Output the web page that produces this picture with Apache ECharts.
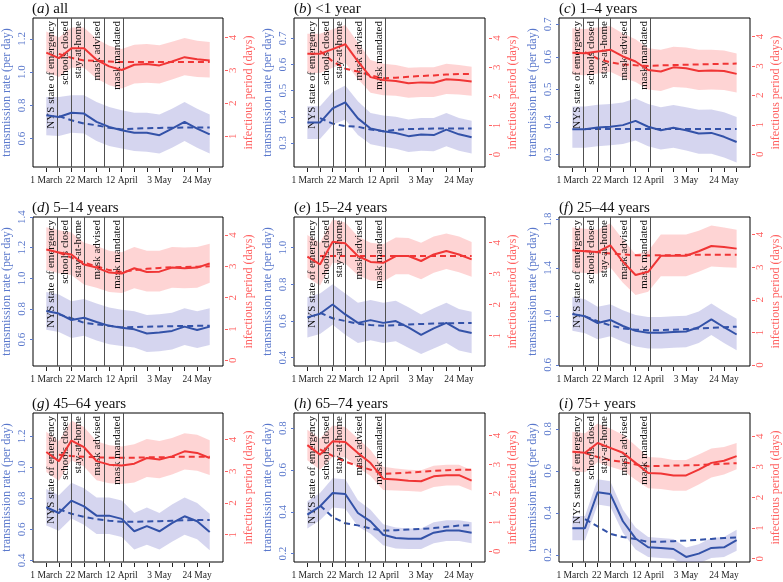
<!DOCTYPE html>
<html><head><meta charset="utf-8">
<script src="https://cdn.jsdelivr.net/npm/echarts@6/dist/echarts.min.js"></script>
<style>html,body{margin:0;padding:0;background:#fff}#c{width:783px;height:582px}</style>
</head><body><div id="c"></div>
<script>
// ---------- data ----------
const weekDays = [0,7,14,21,28,35,42,49,56,63,70,77,84,91];
const xTickDays = [0,7,14,21,28,35,42,49,56,63,70,77,84,91];
const xLabelDays = [0,21,42,63,84];
const xLabelText = ['1 March','22 March','12 April','3 May','24 May'];
const eventDays = [6.3,14.1,21.1,32.0,43.1];
const eventNames = ['NYS state of emergency','schools closed','stay-at-home','mask advised','mask mandated'];
const panelLetters = ['a','b','c','d','e','f','g','h','i'];
const panelNames = ['all','<1 year','1–4 years','5–14 years','15–24 years','25–44 years','45–64 years','65–74 years','75+ years'];

const rateMean = [
 [0.74,0.73,0.755,0.75,0.70,0.67,0.65,0.635,0.635,0.62,0.66,0.70,0.66,0.625],
 [0.378,0.378,0.432,0.455,0.394,0.355,0.345,0.338,0.326,0.332,0.330,0.351,0.333,0.322],
 [0.377,0.377,0.383,0.385,0.39,0.403,0.385,0.374,0.382,0.374,0.364,0.366,0.354,0.338],
 [0.787,0.77,0.728,0.743,0.715,0.69,0.678,0.667,0.64,0.646,0.657,0.685,0.663,0.685],
 [0.62,0.64,0.69,0.636,0.59,0.605,0.59,0.60,0.565,0.525,0.56,0.59,0.55,0.535],
 [1.02,1.0,0.945,0.97,0.92,0.88,0.865,0.865,0.87,0.875,0.91,0.975,0.91,0.85],
 [0.742,0.705,0.785,0.748,0.688,0.688,0.667,0.587,0.62,0.587,0.64,0.684,0.652,0.583],
 [0.386,0.426,0.49,0.485,0.394,0.354,0.29,0.275,0.271,0.271,0.30,0.31,0.31,0.30],
 [0.327,0.327,0.498,0.49,0.36,0.278,0.236,0.233,0.228,0.19,0.206,0.233,0.236,0.27]
];
const rateHi = [
 [0.85,0.85,0.86,0.86,0.82,0.79,0.77,0.755,0.755,0.745,0.78,0.82,0.78,0.745],
 [0.44,0.44,0.495,0.52,0.46,0.415,0.405,0.40,0.39,0.395,0.395,0.415,0.395,0.385],
 [0.447,0.447,0.453,0.455,0.46,0.472,0.455,0.445,0.452,0.445,0.437,0.438,0.43,0.415],
 [0.91,0.895,0.85,0.865,0.835,0.81,0.795,0.785,0.76,0.765,0.775,0.805,0.785,0.805],
 [0.73,0.75,0.80,0.75,0.70,0.715,0.70,0.71,0.675,0.635,0.67,0.70,0.665,0.65],
 [1.16,1.14,1.08,1.10,1.05,1.01,0.995,0.995,1.0,1.005,1.04,1.105,1.04,0.98],
 [0.86,0.82,0.90,0.865,0.805,0.805,0.785,0.705,0.74,0.705,0.76,0.805,0.77,0.70],
 [0.45,0.49,0.56,0.555,0.455,0.41,0.34,0.325,0.32,0.32,0.35,0.36,0.36,0.35],
 [0.385,0.385,0.56,0.55,0.415,0.33,0.285,0.28,0.275,0.235,0.25,0.28,0.285,0.32]
];
const rateLo = [
 [0.62,0.615,0.635,0.63,0.585,0.555,0.54,0.525,0.52,0.51,0.545,0.585,0.545,0.51],
 [0.315,0.315,0.37,0.39,0.33,0.295,0.285,0.278,0.265,0.27,0.268,0.287,0.27,0.26],
 [0.32,0.32,0.325,0.328,0.332,0.343,0.325,0.315,0.32,0.312,0.302,0.302,0.29,0.275],
 [0.665,0.65,0.61,0.625,0.595,0.57,0.558,0.548,0.52,0.525,0.535,0.565,0.545,0.565],
 [0.51,0.53,0.58,0.525,0.48,0.495,0.48,0.49,0.455,0.42,0.45,0.48,0.44,0.425],
 [0.88,0.86,0.81,0.835,0.79,0.75,0.735,0.735,0.74,0.745,0.78,0.845,0.78,0.72],
 [0.625,0.59,0.67,0.63,0.57,0.57,0.55,0.47,0.50,0.47,0.52,0.565,0.535,0.465],
 [0.32,0.36,0.42,0.415,0.33,0.295,0.24,0.225,0.222,0.222,0.25,0.26,0.26,0.25],
 [0.27,0.27,0.44,0.43,0.305,0.225,0.19,0.185,0.182,0.145,0.16,0.185,0.19,0.22]
];
// fitted (dashed) curves start at the second week
const rateFit = [
 [null,0.735,0.71,0.69,0.68,0.665,0.655,0.66,0.662,0.664,0.665,0.666,0.666,0.666],
 [null,0.395,0.374,0.364,0.362,0.351,0.345,0.35,0.353,0.354,0.355,0.355,0.355,0.355],
 [null,0.378,0.378,0.378,0.378,0.378,0.378,0.378,0.378,0.378,0.378,0.378,0.378,0.378],
 [null,0.765,0.74,0.71,0.70,0.69,0.68,0.682,0.684,0.686,0.688,0.689,0.69,0.69],
 [null,0.645,0.615,0.60,0.585,0.578,0.575,0.578,0.581,0.584,0.586,0.588,0.589,0.59],
 [null,1.0,0.96,0.925,0.90,0.89,0.885,0.886,0.89,0.895,0.90,0.905,0.91,0.915],
 [null,0.73,0.70,0.68,0.665,0.655,0.648,0.648,0.650,0.652,0.655,0.658,0.66,0.66],
 [null,0.43,0.375,0.345,0.335,0.32,0.31,0.312,0.315,0.318,0.322,0.328,0.334,0.336],
 [null,0.37,0.335,0.30,0.285,0.275,0.262,0.262,0.265,0.268,0.272,0.276,0.28,0.283]
];
const periodMean = [
 [3.54,3.37,3.67,3.67,3.32,3.12,3.01,3.17,3.19,3.15,3.27,3.40,3.34,3.30],
 [3.46,3.46,3.62,3.79,3.20,2.66,2.56,2.53,2.45,2.48,2.47,2.59,2.56,2.51],
 [3.45,3.43,3.49,3.55,3.32,3.15,2.86,2.81,2.95,2.92,2.83,2.84,2.83,2.73],
 [3.54,3.44,3.38,3.06,2.96,2.80,2.77,2.94,2.82,2.83,2.96,2.94,2.96,3.09],
 [3.55,3.30,4.03,3.98,3.57,3.38,3.35,3.57,3.57,3.41,3.62,3.73,3.62,3.46],
 [3.52,3.49,3.47,3.67,3.17,2.76,2.86,3.35,3.35,3.35,3.49,3.65,3.62,3.57],
 [3.61,3.32,3.97,3.76,3.32,3.21,3.18,3.24,3.42,3.37,3.47,3.63,3.58,3.42],
 [3.67,3.34,3.80,3.78,3.40,3.05,2.51,2.48,2.44,2.42,2.59,2.63,2.63,2.44],
 [3.49,3.46,3.78,3.62,3.46,3.13,2.80,2.78,2.72,2.72,2.91,3.13,3.20,3.35]
];
const periodHi = [
 [4.18,4.0,4.3,4.3,3.95,3.75,3.65,3.78,3.8,3.76,3.87,3.98,3.9,3.86],
 [4.15,4.15,4.3,4.45,3.85,3.25,3.12,3.08,2.98,3.0,3.0,3.12,3.08,3.02],
 [4.28,4.25,4.3,4.35,4.1,3.9,3.6,3.55,3.65,3.62,3.55,3.55,3.52,3.42],
 [4.25,4.15,4.08,3.75,3.65,3.5,3.45,3.62,3.5,3.5,3.62,3.6,3.62,3.72],
 [4.25,4.0,4.75,4.65,4.2,4.0,3.95,4.17,4.15,4.0,4.2,4.3,4.2,4.02],
 [4.22,4.18,4.15,4.35,3.85,3.4,3.5,4.0,4.0,4.0,4.12,4.28,4.22,4.15],
 [4.25,3.95,4.6,4.4,3.95,3.82,3.78,3.85,4.02,3.96,4.05,4.2,4.15,3.98],
 [4.2,3.9,4.35,4.3,3.9,3.5,2.92,2.86,2.82,2.8,2.96,2.99,2.99,2.8],
 [4.15,4.1,4.42,4.25,4.05,3.7,3.32,3.3,3.22,3.22,3.4,3.6,3.65,3.78]
];
const periodLo = [
 [2.95,2.8,3.08,3.08,2.75,2.55,2.45,2.6,2.62,2.6,2.72,2.85,2.8,2.78],
 [2.8,2.8,2.98,3.15,2.6,2.12,2.04,2.02,1.95,1.98,1.98,2.08,2.06,2.02],
 [2.7,2.68,2.74,2.8,2.6,2.45,2.2,2.15,2.28,2.26,2.18,2.2,2.18,2.1],
 [2.88,2.78,2.72,2.42,2.32,2.18,2.15,2.3,2.2,2.2,2.32,2.3,2.32,2.48],
 [2.88,2.62,3.35,3.33,2.95,2.78,2.75,2.98,2.98,2.82,3.03,3.15,3.05,2.9],
 [2.85,2.82,2.8,3.0,2.52,2.15,2.25,2.72,2.72,2.72,2.86,3.02,3.0,2.98],
 [2.98,2.7,3.35,3.15,2.72,2.62,2.6,2.65,2.82,2.78,2.9,3.06,3.02,2.88],
 [3.15,2.82,3.25,3.25,2.9,2.6,2.12,2.1,2.08,2.06,2.22,2.27,2.27,2.1],
 [2.85,2.82,3.15,3.0,2.88,2.58,2.3,2.28,2.22,2.22,2.42,2.65,2.75,2.92]
];
const periodFit = [
 [null,3.5,3.38,3.3,3.29,3.27,3.25,3.25,3.25,3.25,3.25,3.25,3.25,3.25],
 [null,3.56,3.2,2.95,2.85,2.72,2.62,2.64,2.67,2.7,2.72,2.75,2.77,2.77],
 [null,3.47,3.25,3.12,3.05,3.02,3.0,3.02,3.03,3.04,3.05,3.06,3.07,3.08],
 [null,3.44,3.28,3.12,3.0,2.88,2.82,2.88,2.92,2.95,2.97,2.98,2.99,3.0],
 [null,3.57,3.57,3.57,3.57,3.57,3.57,3.57,3.57,3.57,3.57,3.57,3.57,3.57],
 [null,3.5,3.46,3.42,3.39,3.37,3.36,3.37,3.37,3.38,3.38,3.38,3.38,3.38],
 [null,3.52,3.48,3.46,3.44,3.43,3.43,3.43,3.44,3.44,3.45,3.46,3.46,3.46],
 [null,3.52,3.3,3.1,2.95,2.82,2.68,2.7,2.72,2.75,2.78,2.8,2.82,2.82],
 [null,3.45,3.32,3.22,3.16,3.08,3.02,3.03,3.04,3.05,3.06,3.08,3.1,3.12]
];
const leftRange = [[0.429,1.325],[0.208,0.778],[0.261,0.72],[0.428,1.4],[0.355,1.167],[0.59,1.82],[0.389,1.35],[0.16,0.872],[0.166,0.875]];
const leftTicks = [[0.6,0.8,1.0,1.2],[0.3,0.4,0.5,0.6,0.7],[0.3,0.4,0.5,0.6,0.7],[0.6,0.8,1.0,1.2,1.4],[0.4,0.6,0.8,1.0],[0.6,1.0,1.4,1.8],[0.4,0.6,0.8,1.0,1.2],[0.2,0.4,0.6,0.8],[0.2,0.4,0.6,0.8]];
const rightRange = [[0.063,4.59],[-0.425,4.69],[-0.43,4.625],[-0.18,4.574],[0.02,4.83],[-0.03,4.54],[0.137,4.84],[-0.37,4.78],[-0.11,4.76]];
const rightTicks = [[1,2,3,4],[0,1,2,3,4],[0,1,2,3,4],[0,1,2,3,4],[1,2,3,4],[0,1,2,3,4],[1,2,3,4],[0,1,2,3,4],[0,1,2,3,4]];

// ---------- layout / style ----------
const colLeft = [32, 294, 559];
const colRightOffset = [2, 4, 2];
const rowTop = [18, 217, 413];
const W = 191, H = 149;
const xMin = -7.4, xMax = 98.4;
const FONT = 'Liberation Serif';
const BLUE = '#3352a8', RED = '#f03535';
const BLUE_TXT = '#5a78cc', RED_TXT = '#ff6060';
const BAND_BLUE = 'rgba(100,100,195,0.27)', BAND_RED = 'rgba(250,100,100,0.28)';

const grid = [], xAxis = [], yAxis = [], series = [], title = [];
const pts = (arr) => weekDays.map((d, k) => [d, arr[k]]);

function bandSeries(p, yIdx, lo, hi, color) {
  return {
    type: 'custom', xAxisIndex: p, yAxisIndex: yIdx, silent: true, animation: false, z: 1, clip: true,
    data: weekDays.map((d, k) => [d, lo[k], hi[k]]),
    renderItem: (params, api) => {
      if (params.dataIndex !== 0) return null;
      const top = weekDays.map((d, k) => api.coord([d, hi[k]]));
      const bot = weekDays.map((d, k) => api.coord([d, lo[k]])).reverse();
      return {type: 'polygon', shape: {points: top.concat(bot)}, style: {fill: color}};
    }
  };
}

for (let p = 0; p < 9; p++) {
  const col = p % 3, row = Math.floor(p / 3);
  const L = colLeft[col], T = rowTop[row];
  grid.push({left: L, top: T, width: W, height: H, show: true, borderColor: '#000', borderWidth: 1, backgroundColor: 'transparent'});
  title.push({
    text: '(' + '{it|' + panelLetters[p] + '}' + ') ' + panelNames[p],
    left: L, top: T - 16, padding: 0,
    textStyle: {fontFamily: FONT, fontSize: 15, fontWeight: 'normal', color: '#111',
      rich: {it: {fontFamily: FONT, fontSize: 15, fontStyle: 'italic', color: '#111'}}}
  });
  xAxis.push({
    gridIndex: p, type: 'value', position: 'bottom', min: xMin, max: xMax, offset: 1,
    axisLine: {show: false, onZero: false}, splitLine: {show: false},
    axisTick: {show: true, length: 4, customValues: xTickDays, lineStyle: {color: '#222'}},
    axisLabel: {show: true, customValues: xLabelDays, formatter: v => xLabelText[xLabelDays.indexOf(v)],
      fontFamily: FONT, fontSize: 9.5, color: '#222', margin: 7}
  });
  yAxis.push({
    gridIndex: p, type: 'value', position: 'left', min: leftRange[p][0], max: leftRange[p][1],
    axisLine: {show: false, onZero: false}, splitLine: {show: false},
    axisTick: {show: true, length: 3, customValues: leftTicks[p], lineStyle: {color: BLUE_TXT}},
    axisLabel: {customValues: leftTicks[p], rotate: 90, formatter: v => v.toFixed(1), color: BLUE_TXT, fontFamily: FONT, fontSize: 11, margin: 5},
    name: 'transmission rate (per day)', nameLocation: 'middle', nameGap: 20, nameRotate: 90,
    nameTextStyle: {color: BLUE_TXT, fontFamily: FONT, fontSize: 12}
  });
  yAxis.push({
    gridIndex: p, type: 'value', position: 'right', offset: colRightOffset[col], min: rightRange[p][0], max: rightRange[p][1],
    axisLine: {show: false, onZero: false}, splitLine: {show: false},
    axisTick: {show: true, length: 3, customValues: rightTicks[p], lineStyle: {color: RED_TXT}},
    axisLabel: {customValues: rightTicks[p], rotate: 90, formatter: v => String(v), color: RED_TXT, fontFamily: FONT, fontSize: 11, margin: 3},
    name: 'infectious period (days)', nameLocation: 'middle', nameGap: 18, nameRotate: 90,
    nameTextStyle: {color: RED_TXT, fontFamily: FONT, fontSize: 12}
  });
  const yl = 2 * p, yr = 2 * p + 1;
  const base = {type: 'line', xAxisIndex: p, symbol: 'none', showSymbol: false, silent: true, animation: false, connectNulls: false};
  series.push(bandSeries(p, yl, rateLo[p], rateHi[p], BAND_BLUE));
  series.push(bandSeries(p, yr, periodLo[p], periodHi[p], BAND_RED));
  series.push(Object.assign({}, base, {
    yAxisIndex: yl, data: pts(rateFit[p]), lineStyle: {color: BLUE, width: 2, type: [6, 4]}, z: 4,
    markLine: {
      symbol: ['none', 'none'], silent: true, animation: false,
      lineStyle: {color: '#505050', width: 1, type: 'solid'},
      label: {show: true, position: 'insideEndTop', formatter: '{b}', fontFamily: FONT, fontSize: 11, color: '#111', distance: [3, 1]},
      data: eventDays.map((d, i) => ({xAxis: d, name: eventNames[i]}))
    }
  }));
  series.push(Object.assign({}, base, {yAxisIndex: yl, data: pts(rateMean[p]), lineStyle: {color: BLUE, width: 2}, z: 5}));
  series.push(Object.assign({}, base, {yAxisIndex: yr, data: pts(periodFit[p]), lineStyle: {color: RED, width: 2, type: [6, 4]}, z: 4}));
  series.push(Object.assign({}, base, {yAxisIndex: yr, data: pts(periodMean[p]), lineStyle: {color: RED, width: 2}, z: 5}));
}

const chart = echarts.init(document.getElementById('c'), null, {renderer: 'canvas'});
chart.setOption({backgroundColor: '#fff', animation: false, title, grid, xAxis, yAxis, series});
</script></body></html>
